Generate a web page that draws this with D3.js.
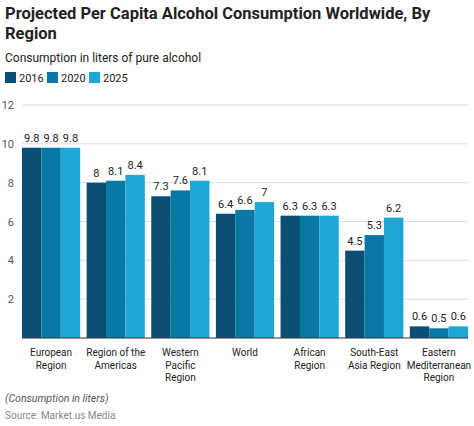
<!DOCTYPE html>
<html><head><meta charset="utf-8">
<script src="https://cdn.jsdelivr.net/npm/d3@7"></script>
<style>body{margin:0;background:#fff;font-family:Roboto,sans-serif}</style>
</head><body><svg id="chart" width="474" height="426"></svg>
<script>
const regions = [["European","Region"],["Region of the","Americas"],["Western","Pacific","Region"],["World"],["African","Region"],["South-East","Asia Region"],["Eastern","Mediterranean","Region"]]
const years = ["2016","2020","2025"]
const v2016 = [9.8, 8, 7.3, 6.4, 6.3, 4.5, 0.6]
const v2020 = [9.8, 8.1, 7.6, 6.6, 6.3, 5.3, 0.5]
const v2025 = [9.8, 8.4, 8.1, 7, 6.3, 6.2, 0.6]
const yTicks = [2, 4, 6, 8, 10, 12]
const colors = ["#0b4f74", "#0878a6", "#1ea6d6"]
const series = [v2016, v2020, v2025]

const svg = d3.select('#chart')
svg.append('text').attr('x',5).attr('y',19).attr('font-size',16.5).attr('font-weight','bold').attr('fill','#222')
  .text('Projected Per Capita Alcohol Consumption Worldwide, By')
svg.append('text').attr('x',5).attr('y',39).attr('font-size',16.5).attr('font-weight','bold').attr('fill','#222').text('Region')
svg.append('text').attr('x',5).attr('y',62).attr('font-size',12).attr('fill','#222').text('Consumption in liters of pure alcohol')

const lg = svg.selectAll('.lg').data(years).join('g').attr('transform',(d,i)=>`translate(${5+i*42},72)`)
lg.append('rect').attr('width',11).attr('height',11).attr('fill',(d,i)=>colors[i])
lg.append('text').attr('x',14).attr('y',10).attr('font-size',11).attr('fill','#222').text(d=>d)

const x = d3.scaleBand().domain(d3.range(regions.length)).range([22,468]).paddingInner(0.1).paddingOuter(0)
const xs = d3.scaleBand().domain(d3.range(3)).range([0,x.bandwidth()])
const y = d3.scaleLinear().domain([0,12]).range([338,105])

svg.selectAll('.grid').data(yTicks).join('line').attr('x1',22).attr('x2',468)
  .attr('y1',d=>y(d)).attr('y2',d=>y(d)).attr('stroke','#ddd')
svg.selectAll('.yl').data(yTicks).join('text').attr('x',14).attr('y',d=>y(d)+4)
  .attr('text-anchor','end').attr('font-size',11).attr('fill','#555').text(d=>d)

series.forEach((s,k)=>{
  svg.selectAll('.b'+k).data(s).join('rect').attr('x',(d,i)=>x(i)+xs(k)).attr('width',xs.bandwidth())
    .attr('y',d=>y(d)).attr('height',d=>y(0)-y(d)).attr('fill',colors[k])
  svg.selectAll('.v'+k).data(s).join('text').attr('x',(d,i)=>x(i)+xs(k)+xs.bandwidth()/2).attr('y',d=>y(d)-6)
    .attr('text-anchor','middle').attr('font-size',11).attr('fill','#222').text(d=>d)
})
svg.append('line').attr('x1',22).attr('x2',468).attr('y1',338).attr('y2',338).attr('stroke','#333')

svg.selectAll('.xl').data(regions).join('text').attr('font-size',10).attr('fill','#222').attr('text-anchor','middle')
  .each(function(d,i){
    d3.select(this).selectAll('tspan').data(d).join('tspan').attr('x',x(i)+x.bandwidth()/2)
      .attr('y',(t,j)=>356+j*12.5).text(t=>t)
  })

svg.append('text').attr('x',5).attr('y',402).attr('font-size',10.5).attr('font-style','italic').attr('fill','#555').text('(Consumption in liters)')
svg.append('text').attr('x',5).attr('y',419).attr('font-size',10).attr('fill','#888').text('Source: Market.us Media')
</script></body></html>
